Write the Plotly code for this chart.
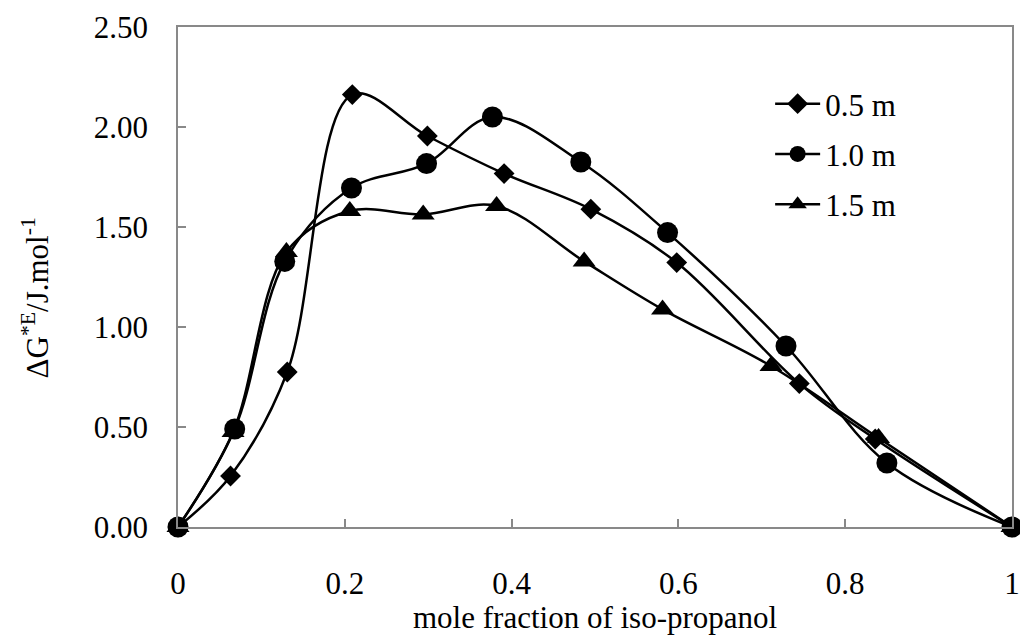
import plotly.graph_objects as go

# data
x_05 = [0, 0.063, 0.131, 0.209, 0.299, 0.391, 0.495, 0.598, 0.745, 0.836, 1.0]
y_05 = [0, 0.255, 0.775, 2.162, 1.955, 1.767, 1.589, 1.322, 0.717, 0.44, 0]

x_10 = [0, 0.068, 0.128, 0.208, 0.298, 0.377, 0.483, 0.587, 0.729, 0.85, 1.0]
y_10 = [0, 0.49, 1.328, 1.695, 1.817, 2.05, 1.825, 1.472, 0.905, 0.32, 0]

x_15 = [0, 0.066, 0.130, 0.206, 0.294, 0.382, 0.487, 0.581, 0.711, 0.84, 1.0]
y_15 = [0, 0.475, 1.375, 1.58, 1.563, 1.605, 1.328, 1.088, 0.805, 0.445, 0]

series_names = ["0.5 m", "1.0 m", "1.5 m"]
x_ticks = [0, 0.2, 0.4, 0.6, 0.8, 1.0]
x_tick_text = ["0", "0.2", "0.4", "0.6", "0.8", "1"]
y_ticks = [0, 0.5, 1.0, 1.5, 2.0, 2.5]
y_tick_text = ["0.00", "0.50", "1.00", "1.50", "2.00", "2.50"]
x_title = "mole fraction of iso-propanol"
y_title = "ΔG<sup>*E</sup>/J.mol<sup>-1</sup>"

FONT = "Liberation Serif"
AX = "#898989"
FS = 31

fig = go.Figure()
specs = [
    (x_05, y_05, "diamond", 16),
    (x_10, y_10, "circle", 21),
    (x_15, y_15, "triangle-up", 20),
]
for i, ((xs, ys, sym, sz), name) in enumerate(zip(specs, series_names)):
    fig.add_trace(go.Scatter(
        x=xs, y=ys, name=name, mode="lines+markers",
        line=dict(color="black", width=2.5, shape="spline", smoothing=1.0),
        marker=dict(symbol=sym, size=sz, color="black"),
        legendgroup=f"g{i}",
        cliponaxis=False,
    ))

fig.add_annotation(
    text=y_title, textangle=-90, xref="paper", yref="paper",
    x=-0.171, y=0.458, xanchor="center", yanchor="middle", showarrow=False,
    font=dict(family=FONT, size=FS, color="black"),
)
fig.add_annotation(
    text=x_title, xref="paper", yref="paper",
    x=0.5, y=-0.18, xanchor="center", yanchor="middle", showarrow=False,
    font=dict(family=FONT, size=FS, color="black"),
)

fig.update_layout(
    width=1020, height=636,
    margin=dict(l=178, r=8, t=27, b=109, autoexpand=False),
    paper_bgcolor="white", plot_bgcolor="white",
    font=dict(family=FONT, size=FS, color="black"),
    showlegend=True,
    legend=dict(
        x=0.71, y=0.9, xanchor="left", yanchor="top",
        font=dict(family=FONT, size=FS, color="black"),
        bgcolor="rgba(0,0,0,0)", tracegroupgap=7,
        itemsizing="trace", itemwidth=45,
    ),
    xaxis=dict(
        range=[0, 1], tickvals=x_ticks, ticktext=x_tick_text,
        showgrid=False, zeroline=False, automargin=False,
        showline=True, linecolor=AX, linewidth=1.5, mirror=True,
        ticks="inside", ticklen=8, tickcolor=AX, tickwidth=1.5,
        ticklabelstandoff=28,
    ),
    yaxis=dict(
        range=[0, 2.5], tickvals=y_ticks, ticktext=y_tick_text,
        showgrid=False, zeroline=False, automargin=False,
        showline=True, linecolor=AX, linewidth=1.5, mirror=True,
        ticks="inside", ticklen=8, tickcolor=AX, tickwidth=1.5,
        ticklabelstandoff=22,
    ),
)

fig.write_html("out.html")
